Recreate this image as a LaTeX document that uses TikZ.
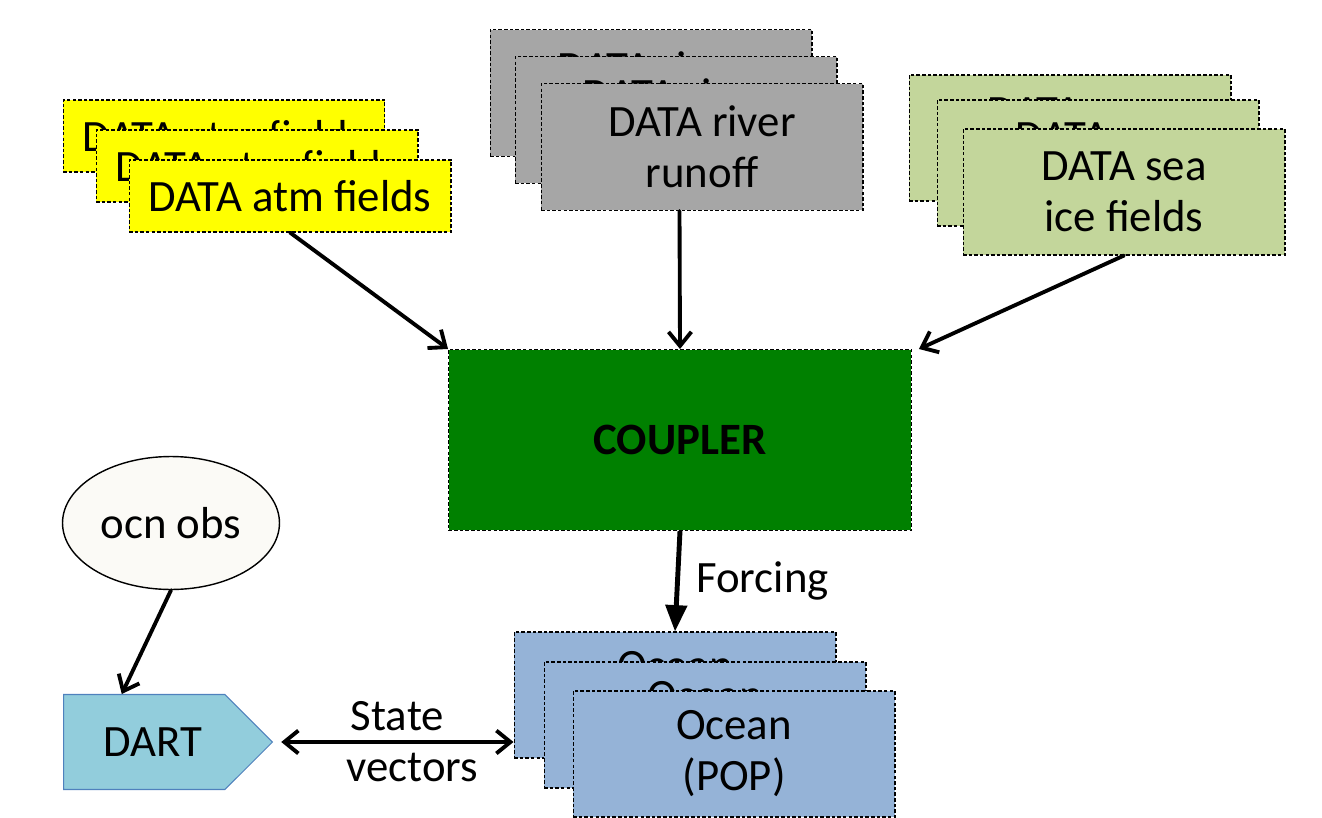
\documentclass[tikz,border=0pt]{standalone}
\usepackage{fontspec}
\setmainfont{Carlito}
\usepackage{xcolor}
\usetikzlibrary{arrows.meta,shapes.geometric,shapes.symbols}
\definecolor{atmcol}{HTML}{FFFF00}
\definecolor{rivercol}{HTML}{A6A6A6}
\definecolor{icecol}{HTML}{C3D69B}
\definecolor{cplcol}{HTML}{008000}
\definecolor{ocncol}{HTML}{95B3D7}
\definecolor{dartcol}{HTML}{92CDDC}
\definecolor{dartline}{HTML}{4F81BD}
\definecolor{obscol}{HTML}{FBFAF6}

\begin{document}
\begin{tikzpicture}[x=0.02cm,y=-0.02cm]
        \tikzset{databox/.style={draw,dash pattern=on 2pt off 1.2pt,line width=0.6pt,
                minimum width=6.44cm,align=center,inner sep=0pt,
                font=\fontsize{25.5}{29}\selectfont},
            atmbox/.style={databox,fill=atmcol,minimum height=1.44cm},
            riverbox/.style={databox,fill=rivercol,minimum height=2.54cm},
            icebox/.style={databox,fill=icecol,minimum height=2.52cm},
            ocnbox/.style={databox,fill=ocncol,minimum height=2.52cm},
            flow/.style={-{Straight Barb[length=8pt,width=13pt]},line width=2.2pt,
                line cap=round,line join=round},
            txt/.style={font=\fontsize{25.5}{29}\selectfont}}
        \useasboundingbox (0,0) rectangle (1322,818);
        \node[atmbox] (atmA) at (224,136) {DATA atm fields};
        \node[atmbox] (atmB) at (257,166) {DATA atm fields};
        \node[atmbox] (atm) at (290,196) {DATA atm fields};
        \node[riverbox] (riverA) at (651,93) {DATA river\\runoff};
        \node[riverbox] (riverB) at (676,120) {DATA river\\runoff};
        \node[riverbox] (river) at (702,147) {DATA river\\runoff};
        \node[icebox] (iceA) at (1070,138) {DATA sea\\ice fields};
        \node[icebox] (iceB) at (1098,163) {DATA sea\\ice fields};
        \node[icebox] (ice) at (1124,192) {DATA sea\\ice fields};
        \node[draw,dash pattern=on 2pt off 1.2pt,line width=0.6pt,fill=cplcol,
            minimum width=9.26cm,minimum height=3.62cm,
            font=\fontsize{25.5}{29}\selectfont\bfseries] (coupler) at (680,440) {COUPLER};
        \node[ocnbox] (ocnA) at (675,695) {Ocean\\(POP)};
        \node[ocnbox] (ocnB) at (705,725) {Ocean\\(POP)};
        \node[ocnbox] (ocn) at (734,754) {Ocean\\(POP)};
        \node[ellipse,draw,line width=0.8pt,fill=obscol,minimum width=4.34cm,
            minimum height=2.66cm,txt] (obs) at (171,523) {ocn obs};
        \node[signal,signal to=east,signal pointer angle=90,draw=dartline,line width=0.6pt,
            fill=dartcol,minimum width=4.18cm,minimum height=1.9cm,txt,anchor=west]
            (dart) at (63,742) {\hspace{0.35cm}DART};
        \draw[flow] (atm.south) -- (coupler.north west);
        \draw[flow] ([xshift=-0.45cm]river.south) -- (coupler.north);
        \draw[flow] (ice.south) -- ([xshift=0.14cm]coupler.north east);
        \draw[-{Triangle[length=15pt,width=12pt]},line width=2.8pt] (coupler.south) --
            node[right=6pt,txt] {Forcing} (ocnA.north);
        \draw[flow] (obs.south) -- ([xshift=-0.45cm]dart.north);
        \draw[flow,{Straight Barb[length=8pt,width=13pt]}-{Straight Barb[length=8pt,width=13pt]}]
            ([xshift=0.16cm]dart.east) -- node[above=2pt,txt] {State}
            node[below=2pt,txt,xshift=0.3cm] {vectors} (dart.east -| ocnA.west);
\end{tikzpicture}
\end{document}
